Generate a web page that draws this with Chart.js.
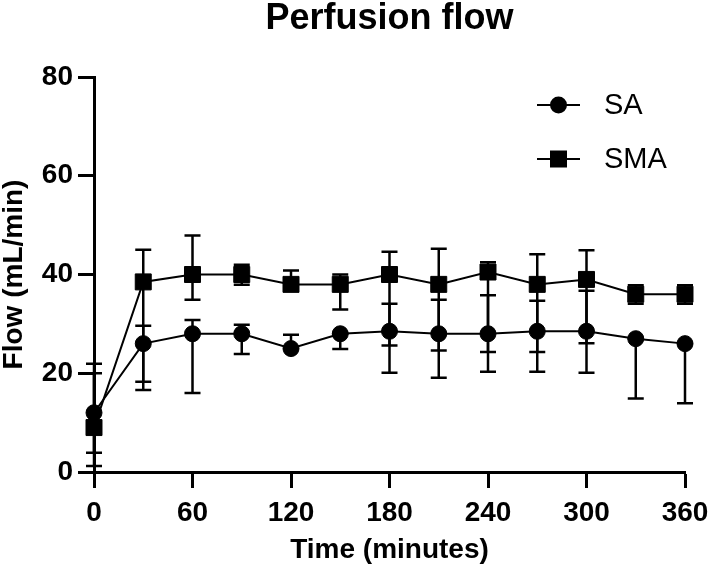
<!DOCTYPE html>
<html>
<head>
<meta charset="utf-8">
<title>Perfusion flow</title>
<script src="https://cdn.jsdelivr.net/npm/chart.js@4.4.0/dist/chart.umd.min.js"></script>
<style>
  html, body { margin: 0; padding: 0; background: #fff; }
  canvas { display: block; }
</style>
</head>
<body>
<canvas id="flowChart" width="709" height="572"></canvas>
<script>
const chartTitle = 'Perfusion flow';
const xTitle = 'Time (minutes)';
const yTitle = 'Flow (mL/min)';

const times = [0, 30, 60, 90, 120, 150, 180, 210, 240, 270, 300, 330, 360];
const xTicks = [0, 60, 120, 180, 240, 300, 360];
const yTicks = [0, 20, 40, 60, 80];

const seriesNames = ['SA', 'SMA'];

// SA: means and lower / upper ends of the error bars
const saMean = [12, 26, 28, 28, 25, 28, 28.5, 28, 28, 28.5, 28.5, 27, 26];
const saLow  = [3.9, 18.3, 16, 23.9, 25, 24.9, 20.1, 19.1, 20.3, 20.3, 20.1, 14.9, 13.9];
const saHigh = [20, 29.6, 30.8, 29.8, 27.8, 28, 34.1, 34.9, 35.8, 34.7, 36.7, 27, 26];

// SMA
const smaMean = [9, 38.5, 40, 40, 38, 38, 40, 38, 40.5, 38, 39, 36, 36];
const smaLow  = [1.2, 16.6, 34.9, 37.9, 38, 32.9, 25.6, 24.6, 24.3, 24.3, 26.1, 34.1, 34.1];
const smaHigh = [21.9, 45, 47.9, 42, 40.8, 40, 44.6, 45.2, 42.5, 44.1, 44.9, 37.8, 37.8];

const fontFamily = '"Liberation Sans", Arial, Helvetica, sans-serif';

function toPoints(values) {
    return times.map((t, i) => ({ x: t, y: values[i] }));
}

// error bars go under the markers
const errorBars = {
    id: 'errorBars',
    beforeDatasetsDraw(chart) {
        const ctx = chart.ctx;
        const yScale = chart.scales.y;
        ctx.save();
        ctx.strokeStyle = '#000';
        ctx.lineWidth = 2.5;
        chart.data.datasets.forEach((ds, di) => {
            const meta = chart.getDatasetMeta(di);
            meta.data.forEach((pt, i) => {
                const lo = yScale.getPixelForValue(ds.low[i]);
                const hi = yScale.getPixelForValue(ds.high[i]);
                ctx.beginPath();
                ctx.moveTo(pt.x, lo);
                ctx.lineTo(pt.x, hi);
                ctx.moveTo(pt.x - 8, lo);
                ctx.lineTo(pt.x + 8, lo);
                ctx.moveTo(pt.x - 8, hi);
                ctx.lineTo(pt.x + 8, hi);
                ctx.stroke();
            });
        });
        ctx.restore();
    }
};

// title centred over the plot area, legend in the top right
const titleAndLegend = {
    id: 'titleAndLegend',
    afterDraw(chart) {
        const ctx = chart.ctx;
        const area = chart.chartArea;
        ctx.save();
        ctx.fillStyle = '#000';
        ctx.font = 'bold 36px ' + fontFamily;
        ctx.textAlign = 'center';
        ctx.textBaseline = 'alphabetic';
        ctx.fillText(chartTitle, (area.left + area.right) / 2, 29);

        ctx.font = '29px ' + fontFamily;
        ctx.textAlign = 'left';
        ctx.textBaseline = 'middle';
        chart.data.datasets.forEach((ds, i) => {
            const y = 105 + i * 54;
            ctx.strokeStyle = '#000';
            ctx.lineWidth = 2;
            ctx.beginPath();
            ctx.moveTo(537, y);
            ctx.lineTo(580, y);
            ctx.stroke();
            if (ds.pointStyle === 'rect') {
                ctx.fillRect(550, y - 8.5, 17, 17);
            } else {
                ctx.beginPath();
                ctx.arc(558.5, y, 8.5, 0, Math.PI * 2);
                ctx.fill();
            }
            ctx.fillText(ds.label, 604, y + 1);
        });
        ctx.restore();
    }
};

function makeDataset(label, mean, low, high, style, radius) {
    return {
        label: label,
        data: toPoints(mean),
        low: low,
        high: high,
        borderColor: '#000',
        backgroundColor: '#000',
        borderWidth: 2,
        pointStyle: style,
        pointRadius: radius,
        pointHoverRadius: radius,
        pointBackgroundColor: '#000',
        pointBorderColor: '#000',
        pointBorderWidth: 1,
        tension: 0,
        clip: false
    };
}

document.addEventListener('DOMContentLoaded', () => {
    Chart.defaults.color = '#000';
    Chart.defaults.font.family = fontFamily;

    const ctx = document.getElementById('flowChart').getContext('2d');
    new Chart(ctx, {
        type: 'line',
        data: {
            datasets: [
                makeDataset(seriesNames[0], saMean, saLow, saHigh, 'circle', 8),
                makeDataset(seriesNames[1], smaMean, smaLow, smaHigh, 'rect', 11.3)
            ]
        },
        options: {
            responsive: false,
            animation: false,
            devicePixelRatio: 1,
            layout: { padding: { top: 77, right: 24, left: 0, bottom: 0 } },
            plugins: {
                legend: { display: false },
                tooltip: { enabled: false },
                title: { display: false }
            },
            scales: {
                x: {
                    type: 'linear',
                    min: xTicks[0],
                    max: xTicks[xTicks.length - 1],
                    afterBuildTicks: s => { s.ticks = xTicks.map(v => ({ value: v })); },
                    afterFit: s => { s.height = 100; s.paddingLeft = 0; s.paddingRight = 0; },
                    grid: { drawOnChartArea: false, drawTicks: true, tickLength: 16, tickWidth: 3, tickColor: '#000' },
                    border: { display: true, color: '#000', width: 3 },
                    ticks: { padding: 8, maxRotation: 0, font: { size: 28, weight: 'bold' } },
                    title: {
                        display: true, text: xTitle,
                        font: { size: 28, weight: 'bold', lineHeight: 1.2 },
                        padding: { top: 0, bottom: 5 }
                    }
                },
                y: {
                    type: 'linear',
                    min: yTicks[0],
                    max: yTicks[yTicks.length - 1],
                    afterBuildTicks: s => { s.ticks = yTicks.map(v => ({ value: v })); },
                    afterFit: s => { s.width = 94; },
                    grid: { drawOnChartArea: false, drawTicks: true, tickLength: 16, tickWidth: 3, tickColor: '#000' },
                    border: { display: true, color: '#000', width: 3 },
                    ticks: { padding: 5, font: { size: 28, weight: 'bold' } },
                    title: {
                        display: true, text: yTitle,
                        font: { size: 28, weight: 'bold', lineHeight: 1 },
                        padding: { top: 0, bottom: 0 }
                    }
                }
            }
        },
        plugins: [errorBars, titleAndLegend]
    });
});
</script>
</body>
</html>
